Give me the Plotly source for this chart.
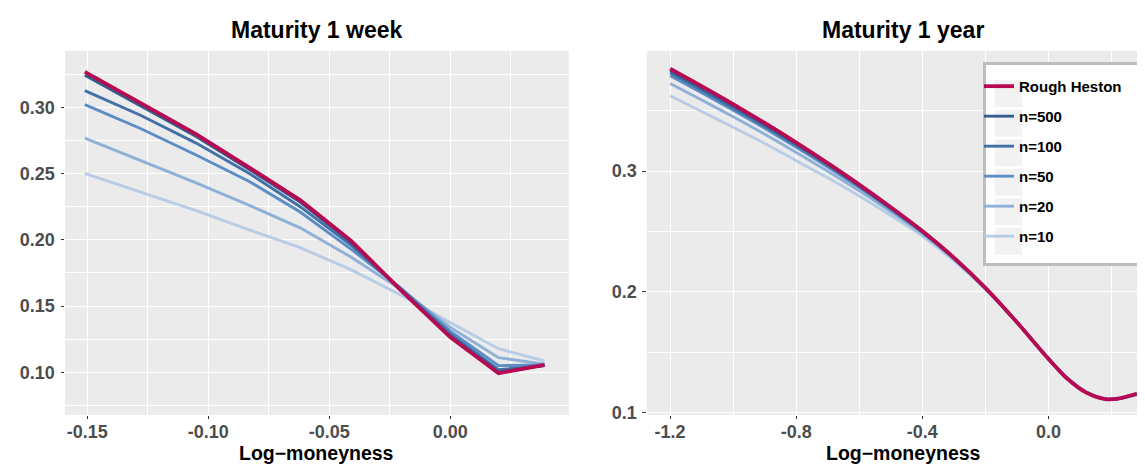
import plotly.graph_objects as go

# ---------------- data ----------------
series_names = ["Rough Heston", "n=500", "n=100", "n=50", "n=20", "n=10"]
series_colors = ["#B70A52", "#355D8C", "#4271A8", "#5C8DC4", "#8FB0D7", "#B8CDE5"]

# Maturity 1 week
x_week = [-0.151, -0.128, -0.105, -0.083, -0.062, -0.041, -0.020, 0.0, 0.020, 0.039]
week_rough = [0.3267, 0.3030, 0.2797, 0.2545, 0.2300, 0.1994, 0.1613, 0.1265, 0.0993, 0.1055]
week_n500 = [0.3243, 0.3010, 0.2780, 0.2530, 0.2285, 0.1980, 0.1615, 0.1275, 0.1005, 0.1050]
week_n100 = [0.3126, 0.2940, 0.2730, 0.2500, 0.2250, 0.1960, 0.1620, 0.1290, 0.1020, 0.1050]
week_n50 = [0.3020, 0.2840, 0.2640, 0.2440, 0.2210, 0.1930, 0.1630, 0.1310, 0.1050, 0.1055]
week_n20 = [0.2768, 0.2600, 0.2430, 0.2260, 0.2090, 0.1870, 0.1620, 0.1340, 0.1110, 0.1060]
week_n10 = [0.2501, 0.2360, 0.2220, 0.2075, 0.1940, 0.1775, 0.1580, 0.1375, 0.1178, 0.1085]

# Maturity 1 year
x_year = [-1.2, -1.1, -1.0, -0.9, -0.8, -0.7, -0.6, -0.5, -0.4, -0.3, -0.2, -0.1,
          0.0, 0.06, 0.12, 0.18, 0.22, 0.28]
year_rough = [0.3848, 0.3703, 0.3553, 0.3398, 0.3236, 0.3066, 0.2888, 0.2700, 0.2503,
              0.2283, 0.2033, 0.1748, 0.1445, 0.1280, 0.1165, 0.1112, 0.1115, 0.1155]
year_n500 = [0.3830, 0.3686, 0.3538, 0.3384, 0.3224, 0.3056, 0.2880, 0.2694, 0.2499,
             0.2281, 0.2032, 0.1748, 0.1445, 0.1280, 0.1165, 0.1112, 0.1115, 0.1155]
year_n100 = [0.3813, 0.3670, 0.3523, 0.3371, 0.3213, 0.3047, 0.2873, 0.2689, 0.2496,
             0.2279, 0.2031, 0.1748, 0.1446, 0.1281, 0.1166, 0.1112, 0.1115, 0.1154]
year_n50 = [0.3790, 0.3649, 0.3504, 0.3354, 0.3197, 0.3034, 0.2863, 0.2682, 0.2492,
            0.2276, 0.2030, 0.1747, 0.1447, 0.1282, 0.1167, 0.1113, 0.1115, 0.1153]
year_n20 = [0.3725, 0.3588, 0.3449, 0.3305, 0.3154, 0.2999, 0.2836, 0.2663, 0.2480,
            0.2269, 0.2026, 0.1746, 0.1448, 0.1285, 0.1170, 0.1114, 0.1115, 0.1150]
year_n10 = [0.3623, 0.3493, 0.3363, 0.3228, 0.3086, 0.2944, 0.2793, 0.2632, 0.2461,
            0.2258, 0.2020, 0.1745, 0.1450, 0.1288, 0.1173, 0.1116, 0.1115, 0.1145]

week_series = [week_rough, week_n500, week_n100, week_n50, week_n20, week_n10]
year_series = [year_rough, year_n500, year_n100, year_n50, year_n20, year_n10]

titles = ["Maturity 1 week", "Maturity 1 year"]
x_label = "Log\u2212moneyness"
week_xticks = [-0.15, -0.10, -0.05, 0.00]
week_yticks = [0.10, 0.15, 0.20, 0.25, 0.30]
year_xticks = [-1.2, -0.8, -0.4, 0.0]
year_yticks = [0.1, 0.2, 0.3]

# ---------------- figure ----------------
W, H = 1145, 466
FONT = "Liberation Sans, Arial, Helvetica, sans-serif"
fig = go.Figure()

# draw from lightest to darkest, Rough Heston on top
for i in reversed(range(len(series_names))):
    width = 3.8 if i == 0 else 2.9
    fig.add_trace(go.Scatter(
        x=x_week, y=week_series[i], mode="lines", name=series_names[i],
        line=dict(color=series_colors[i], width=width),
        showlegend=False, xaxis="x", yaxis="y", hoverinfo="skip"))
    fig.add_trace(go.Scatter(
        x=x_year, y=year_series[i], mode="lines", name=series_names[i],
        line=dict(color=series_colors[i], width=width, shape="spline", smoothing=0.8),
        showlegend=True, legendrank=i + 1, legendgroup=series_names[i],
        xaxis="x2", yaxis="y2", hoverinfo="skip"))

def px_x(p):
    return p / W

def px_y(p):
    return 1 - p / H

tickfont = dict(family=FONT, size=18, color="#4D4D4D", weight="bold")
common_axis = dict(
    showgrid=True, gridcolor="white", gridwidth=1.4, zeroline=False,
    ticks="outside", ticklen=3.5, tickwidth=1.1, tickcolor="#333333",
    tickfont=tickfont, showline=False, fixedrange=True,
)
x_extra = dict(ticklabelstandoff=-3)
y_extra = dict(ticklabelstandoff=2)
minor_grid = dict(showgrid=True, gridcolor="white", gridwidth=0.7, ticks="")

y_dom = [px_y(414.0), px_y(43.5)]
left_dom = [px_x(57.0), px_x(560.7)]
right_dom = [px_x(638.8), 1.0]

fig.update_layout(
    width=W, height=H,
    margin=dict(l=0, r=0, t=0, b=0),
    paper_bgcolor="white", plot_bgcolor="#EBEBEB",
    showlegend=True,
    xaxis=dict(common_axis, **x_extra, domain=left_dom, range=[-0.1592, 0.0490],
               tickvals=week_xticks, ticktext=["%.2f" % v for v in week_xticks],
               minor=dict(minor_grid, dtick=0.025, tick0=0), anchor="y"),
    yaxis=dict(common_axis, **y_extra, domain=y_dom, range=[0.0678, 0.3427],
               tickvals=week_yticks, ticktext=["%.2f" % v for v in week_yticks],
               minor=dict(minor_grid, dtick=0.025, tick0=0), anchor="x"),
    xaxis2=dict(common_axis, **x_extra, domain=right_dom, range=[-1.274, 0.3315],
                tickvals=year_xticks, ticktext=["%.1f" % v for v in year_xticks],
                minor=dict(minor_grid, dtick=0.2, tick0=0), anchor="y2"),
    yaxis2=dict(common_axis, **y_extra, domain=y_dom, range=[0.0981, 0.3996],
                tickvals=year_yticks, ticktext=["%.1f" % v for v in year_yticks],
                minor=dict(minor_grid, dtick=0.05, tick0=0), anchor="x2"),
    legend=dict(
        x=px_x(971), y=px_y(63), xanchor="left", yanchor="top",
        bgcolor="rgba(0,0,0,0)", borderwidth=0,
        font=dict(family=FONT, size=15, color="black", weight="bold"),
        tracegroupgap=7.5, itemwidth=30,
    ),
)

# subplot titles
title_centers = [(57.0 + 560.7) / 2, (638.8 + 1152.0) / 2]
for t, cx in zip(titles, title_centers):
    fig.add_annotation(
        text=t, x=px_x(cx), y=px_y(22),
        xref="paper", yref="paper", showarrow=False, xanchor="center", yanchor="middle",
        font=dict(family=FONT, size=23, color="black", weight="bold"))

# x-axis titles
for cx in title_centers:
    fig.add_annotation(
        text=x_label, x=px_x(cx), y=0, yshift=1,
        xref="paper", yref="paper", showarrow=False, xanchor="center", yanchor="bottom",
        borderpad=0,
        font=dict(family=FONT, size=19.5, color="black", weight="bold"))

# legend box (white with grey border) and key backgrounds
fig.add_shape(type="rect", xref="paper", yref="paper",
              x0=px_x(976.5), x1=px_x(1134.5), y0=px_y(261), y1=px_y(56.5),
              fillcolor="white", line=dict(color="#BDBDBD", width=3), layer="above")
for k in range(len(series_names)):
    cy = 87.3 + 30 * k
    fig.add_shape(type="rect", xref="paper", yref="paper",
                  x0=px_x(986.7), x1=px_x(1014.0), y0=px_y(cy + 13.7), y1=px_y(cy - 13.7),
                  fillcolor="#F2F2F2", line=dict(width=0), layer="above")

fig.write_html("out.html")
